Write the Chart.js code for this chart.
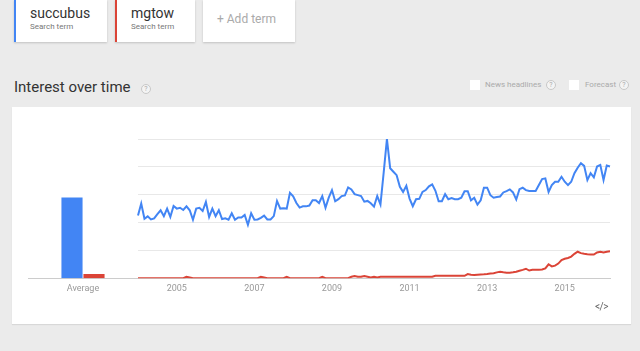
<!DOCTYPE html>
<html>
<head>
<meta charset="utf-8">
<script src="https://cdn.jsdelivr.net/npm/chart.js@4/dist/chart.umd.min.js"></script>
<style>
  html, body { margin:0; padding:0; }
  body { width:640px; height:351px; background:#ebebeb; position:relative; overflow:hidden; font-family: Roboto, "Liberation Sans", Arial, sans-serif; }
  .card { position:absolute; top:0; height:42px; background:#fff; box-shadow:0 1px 2px rgba(0,0,0,0.18); box-sizing:border-box; }
  .term { position:absolute; left:14px; top:5px; font-size:14px; color:#333; }
  .sub { position:absolute; left:14px; top:22px; font-size:8px; color:#777; }
  .add { position:absolute; left:14px; top:12px; font-size:12px; color:#aaa; }
  #title { position:absolute; left:14px; top:78px; font-size:15px; color:#333; }
  .q { position:absolute; width:8px; height:8px; border:1px solid #c8c8c8; border-radius:50%; font-size:7px; line-height:8px; text-align:center; color:#aaa; background:#f4f4f4; }
  .cb { position:absolute; width:10px; height:10px; background:#fff; }
  .opt { position:absolute; font-size:8px; color:#aaa; }
  #panel { position:absolute; left:12px; top:107px; width:619px; height:217px; background:#fff; box-shadow:0 1px 1px rgba(0,0,0,0.08); }
  #cBar { position:absolute; left:28px; top:120px; }
  #cLine { position:absolute; left:120px; top:120px; }
  #embed { position:absolute; left:595px; top:301px; font-size:10px; color:#666; letter-spacing:-0.5px; }
</style>
</head>
<body>
<div class="card" style="left:14px;width:93px;border-left:2px solid #4285f4;">
  <div class="term">succubus</div><div class="sub">Search term</div>
</div>
<div class="card" style="left:115px;width:80px;border-left:2px solid #db4437;">
  <div class="term">mgtow</div><div class="sub">Search term</div>
</div>
<div class="card" style="left:203px;width:92px;">
  <div class="add">+ Add term</div>
</div>

<div id="title">Interest over time</div>
<div class="q" style="left:141px;top:84px;">?</div>
<div class="cb" style="left:470px;top:80px;"></div>
<div class="opt" style="left:485px;top:80px;">News headlines</div>
<div class="q" style="left:546px;top:80px;">?</div>
<div class="cb" style="left:569px;top:80px;"></div>
<div class="opt" style="left:585px;top:80px;">Forecast</div>
<div class="q" style="left:619px;top:80px;">?</div>

<div id="panel"></div>
<canvas id="cBar" width="110" height="180"></canvas>
<canvas id="cLine" width="510" height="180"></canvas>
<div id="embed">&lt;/&gt;</div>

<script>
// ---- data ----
const terms = ['succubus', 'mgtow'];
const avgCategory = ['Average'];
const avgSuccubus = [58];
const avgMgtow = [3];

const months = [];
for (let y = 2004; y <= 2016; y++) {
  for (let m = 1; m <= 12; m++) {
    if (y === 2016 && m > 3) break;
    months.push(y + '-' + String(m).padStart(2, '0'));
  }
}
const yearTicks = ['2005', '2007', '2009', '2011', '2013', '2015'];

const succubus = [
  45, 53.6, 42.7, 44.4, 42.2, 43, 46, 48.8, 44.6, 50, 44, 51.9,
  50, 50.6, 49, 51.6, 48.8, 42, 50, 50.6, 48.3, 54.8, 44, 50,
  44.6, 48.8, 42.5, 43, 42, 46.6, 42, 43.6, 43.6, 45.5, 38.4, 46.6,
  42, 42.2, 43.4, 45, 42.2, 42.2, 44.6, 55.5, 50, 50.3, 50, 61.3,
  58.9, 54, 50.7, 51.6, 51.6, 52.2, 56, 56, 54, 59, 50.6, 57.9,
  63.3, 55.3, 56.8, 59, 59.5, 65.2, 63.8, 60.4, 59.7, 59, 55, 55.5,
  53.8, 51.4, 59, 53, 76, 100, 79, 76.5, 74, 65.7, 62, 66.4,
  57.2, 51.7, 56.7, 57, 62, 63.3, 66, 67.4, 62.8, 55.3, 55.3, 60.4,
  56.7, 57.5, 56.7, 56.7, 57.8, 62.5, 62.5, 56, 57.8, 52.9, 56, 65,
  65, 59.6, 57.8, 58.3, 58.7, 61.6, 62.6, 63.8, 61.6, 56.5, 64, 65,
  63.3, 62.6, 62.6, 62.6, 66.9, 71.2, 71.7, 62, 66.9, 69.3, 69.3, 72.9,
  69.3, 66.9, 69.3, 75.4, 79.4, 82.6, 80.7, 70.5, 75.4, 72.5, 80.2, 81.4,
  70.5, 80.9, 80.2
];
const mgtow = [
  0, 0, 0, 0, 0, 0, 0, 0, 0, 0, 0, 0,
  0, 0, 0, 1, 0.5, 0, 0, 0, 0, 0, 0, 0,
  0, 0, 0, 0, 0, 0, 0, 0, 0, 0, 0, 0,
  0, 0, 1, 0.5, 0, 0, 0, 0, 0, 0, 1, 0,
  0, 0, 0, 0, 0, 0, 0, 0, 0, 1, 0, 0,
  0, 0, 0, 0, 0, 0, 1, 1.5, 1, 1, 1.5, 1,
  0.5, 1, 0.5, 1, 1, 1, 1, 1, 1, 1, 1, 1,
  1, 1, 1, 1, 1, 1, 1, 1, 1.7, 1.7, 1.7, 1.7,
  1.7, 1.7, 1.7, 1.7, 1.7, 1.7, 3, 2.5, 2.3, 2.5, 2.7, 2.8,
  3, 3.3, 3.6, 4.2, 4.6, 4.2, 4, 4, 4.2, 4.6, 5.4, 6,
  6.8, 5.5, 6, 6, 6, 6.2, 7, 10, 8.5, 9, 10.5, 13,
  14, 14.5, 15.5, 17.5, 19, 18, 17.5, 17.2, 17, 17, 18.5, 19,
  18.4, 19, 19.3
];

const BLUE = '#4285f4';
const RED = '#db4437';
const tickFont = { family: 'Roboto, Arial, sans-serif', size: 9 };

new Chart(document.getElementById('cBar'), {
  type: 'bar',
  data: {
    labels: avgCategory,
    datasets: [
      { label: terms[0], data: avgSuccubus, backgroundColor: BLUE, barPercentage: 0.96, categoryPercentage: 0.4 },
      { label: terms[1], data: avgMgtow, backgroundColor: RED, barPercentage: 0.96, categoryPercentage: 0.4 }
    ]
  },
  options: {
    responsive: false, animation: false,
    layout: { padding: { top: 19, bottom: 1, left: 0, right: 0 } },
    plugins: { legend: { display: false }, tooltip: { enabled: false } },
    scales: {
      x: { grid: { display: false, drawTicks: false }, border: { color: '#cccccc' },
           ticks: { color: '#999', font: tickFont, padding: 5 } },
      y: { display: false, min: 0, max: 100 }
    }
  }
});

new Chart(document.getElementById('cLine'), {
  type: 'line',
  data: {
    labels: months,
    datasets: [
      { label: terms[0], data: succubus, borderColor: BLUE, borderWidth: 2, pointRadius: 0, tension: 0, fill: false },
      { label: terms[1], data: mgtow, borderColor: RED, borderWidth: 2, pointRadius: 0, tension: 0, fill: false }
    ]
  },
  options: {
    responsive: false, animation: false,
    layout: { padding: { top: 19, bottom: 1, left: 18, right: 20 } },
    plugins: { legend: { display: false }, tooltip: { enabled: false } },
    scales: {
      x: { grid: { display: false, drawTicks: false }, border: { color: '#cccccc' },
           ticks: { color: '#999', font: tickFont, padding: 5, autoSkip: false, maxRotation: 0,
             callback: function(v, i) {
               const lab = months[i];
               const yr = lab.slice(0, 4), mo = lab.slice(5);
               return (mo === '01' && yearTicks.includes(yr)) ? yr : '';
             } } },
      y: { min: 0, max: 100, ticks: { display: false, stepSize: 20 },
           grid: { color: '#e8e8e8', drawTicks: false }, border: { display: false } }
    }
  }
});
</script>
</body>
</html>
